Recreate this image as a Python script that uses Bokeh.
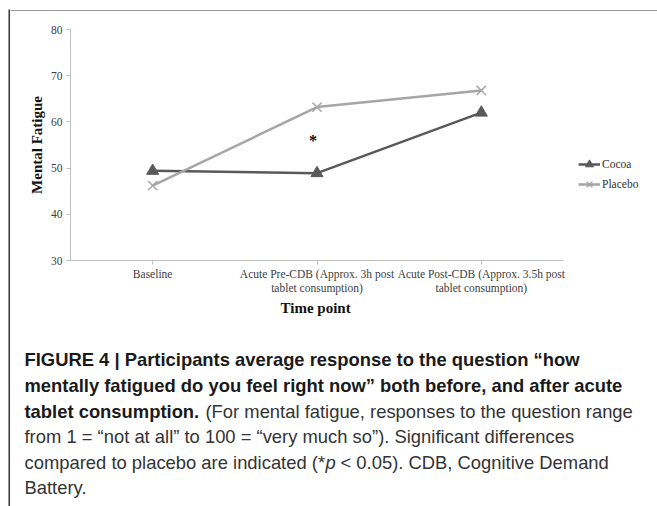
from bokeh.plotting import figure
from bokeh.layouts import row, column
from bokeh.models import (FixedTicker, Legend, LegendItem, Range1d, Title,
                          ColumnDataSource)
from bokeh.core.properties import value
from bokeh.embed import file_html
from bokeh.resources import INLINE

# ---- data ----
timepoints = [
    "Baseline",
    "Acute Pre-CDB (Approx. 3h post\ntablet consumption)",
    "Acute Post-CDB (Approx. 3.5h post\ntablet consumption)",
]
cocoa = [49.4, 48.9, 62.0]
placebo = [46.2, 63.2, 66.8]
series_names = ["Cocoa", "Placebo"]
y_ticks = [30, 40, 50, 60, 70, 80]
sig_index = [1]
sig_y = [56.6]
sig_text = ["*"]

y_title = "Mental Fatigue"
x_title = "Time point"

caption_l1 = "FIGURE 4 | Participants average response to the question \u201chow"
caption_l2 = "mentally fatigued do you feel right now\u201d both before, and after acute"
caption_l3b = "tablet consumption."
caption_l3r = "(For mental fatigue, responses to the question range"
caption_l4 = "from 1 = \u201cnot at all\u201d to 100 = \u201cvery much so\u201d). Significant differences"
caption_l5a = "compared to placebo are indicated (*"
caption_l5p = "p"
caption_l5b = "< 0.05). CDB, Cognitive Demand"
caption_l6 = "Battery."

SERIF = "Liberation Serif"
SANS = "Liberation Sans"
FRAME_C = "#333333"

TOTAL_W, TOTAL_H = 657, 506
LEFT_W, TOP_H = 10, 11
CHART_H = 320
INNER_W = TOTAL_W - LEFT_W
CAP_H = TOTAL_H - TOP_H - CHART_H

# chart geometry (pixels): plot area 493 px wide for the three time points,
# the frame continues to the right edge so the legend can sit there
BORDER_L = 60
AXIS_PX = 493
FRAME_PX = INNER_W - BORDER_L
n_cat = len(timepoints)
x_end = n_cat * FRAME_PX / AXIS_PX
x_pos = [i + 0.5 for i in range(n_cat)]


def blank(width, height, xr, yr):
    f = figure(width=width, height=height, x_range=xr, y_range=yr,
               output_backend="svg", toolbar_location=None,
               x_axis_location=None, y_axis_location=None,
               min_border=0, min_border_left=0, min_border_right=0,
               min_border_top=0, min_border_bottom=0, frame_align=False)
    f.outline_line_color = None
    f.xgrid.visible = False
    f.ygrid.visible = False
    f.background_fill_color = "white"
    f.border_fill_color = "white"
    return f


# ---- box lines around the figure panel ----
left_strip = blank(LEFT_W, TOTAL_H, Range1d(0, LEFT_W), Range1d(TOTAL_H, 0))
left_strip.segment(x0=[9], y0=[9], x1=[9], y1=[TOTAL_H], line_color=FRAME_C, line_width=2)
top_strip = blank(INNER_W, TOP_H, Range1d(0, INNER_W), Range1d(TOP_H, 0))
top_strip.segment(x0=[0], y0=[10], x1=[INNER_W], y1=[10], line_color=FRAME_C, line_width=2)

# ---- chart ----
p = figure(
    width=INNER_W, height=CHART_H,
    x_range=Range1d(0, x_end), y_range=Range1d(30, 80),
    output_backend="svg", toolbar_location=None, frame_align=False,
    min_border_left=BORDER_L, min_border_right=0, min_border_top=18, min_border_bottom=71,
)
p.outline_line_color = None
p.background_fill_color = "white"
p.border_fill_color = "white"
p.xgrid.visible = False
p.ygrid.visible = False

src = ColumnDataSource(dict(x=x_pos, cocoa=cocoa, placebo=placebo))

c_dark = "#595959"
c_light = "#a6a6a6"

l1 = p.line("x", "cocoa", source=src, line_color=c_dark, line_width=2.5)
m1 = p.scatter("x", "cocoa", source=src, marker="triangle", size=12,
               fill_color=c_dark, line_color=c_dark)
l2 = p.line("x", "placebo", source=src, line_color=c_light, line_width=2.5)
m2 = p.scatter("x", "placebo", source=src, marker="x", size=13,
               line_color=c_light, line_width=1.5)

p.text(x=[x_pos[i] for i in sig_index], y=sig_y, text=sig_text, text_font=value(SERIF),
       text_font_style="bold", text_font_size="16px", text_color="#111111",
       text_align="center", text_baseline="middle", x_offset=-4, y_offset=3)

for ax in (p.xaxis[0], p.yaxis[0]):
    ax.axis_line_color = "#bfbfbf"
    ax.axis_line_width = 1
    ax.major_tick_line_color = "#bfbfbf"
    ax.major_tick_in = 0
    ax.major_tick_out = 4
    ax.minor_tick_line_color = None
    ax.major_label_text_font = SERIF
    ax.major_label_text_font_size = "11.5px"
    ax.major_label_text_color = "#404040"
    ax.axis_label_text_font = SERIF
    ax.axis_label_text_font_style = "bold"
    ax.axis_label_text_font_size = "15px"
    ax.axis_label_text_color = "#111111"

p.yaxis.ticker = FixedTicker(ticks=y_ticks)
p.yaxis.major_label_standoff = 4
p.yaxis.axis_label = y_title
p.yaxis.axis_label_standoff = 3

p.xaxis.ticker = FixedTicker(ticks=x_pos)
p.xaxis.major_label_overrides = {x: t for x, t in zip(x_pos, timepoints)}
p.xaxis.bounds = (0, n_cat)
p.xaxis.major_label_standoff = 3

p.add_layout(Title(text=x_title, align="left", offset=210, standoff=2,
                   text_font=SERIF, text_font_style="bold", text_font_size="15px",
                   text_color="#111111"), "below")

legend = Legend(
    items=[LegendItem(label=series_names[0], renderers=[l1, m1]),
           LegendItem(label=series_names[1], renderers=[l2, m2])],
    location=(508, 66), orientation="vertical",
    label_text_font=SERIF, label_text_font_size="11.5px", label_text_color="#333333",
    glyph_width=22, glyph_height=20, label_height=20, label_standoff=2,
    spacing=0, padding=0, margin=0,
    border_line_color=None, background_fill_alpha=0,
)
p.add_layout(legend, "center")

# ---- caption ----
cap = blank(INNER_W, CAP_H, Range1d(0, INNER_W), Range1d(CAP_H, 0))
bold_c = "#1a1a1a"
reg_c = "#333333"


def cap_text(x, y, text, style="normal", color=reg_c):
    cap.text(x=[x], y=[y], text=[text], text_font=value(SANS), text_font_size="18.4px",
             text_font_style=style, text_color=color, text_baseline="middle",
             text_align="left")


cap_text(14, 28.3, caption_l1, "bold", bold_c)
cap_text(14, 53.9, caption_l2, "bold", bold_c)
cap_text(14, 79.5, caption_l3b, "bold", bold_c)
cap_text(195, 79.5, caption_l3r)
cap_text(14, 105.1, caption_l4)
cap_text(14, 130.7, caption_l5a)
cap_text(315, 130.7, caption_l5p, "italic")
cap_text(330, 130.7, caption_l5b)
cap_text(14, 156.3, caption_l6)

inner = column(top_strip, p, cap, width=INNER_W, height=TOTAL_H, spacing=0)
layout = row(left_strip, inner, width=TOTAL_W, height=TOTAL_H, spacing=0)

open("out.html", "w").write(file_html(layout, INLINE))
